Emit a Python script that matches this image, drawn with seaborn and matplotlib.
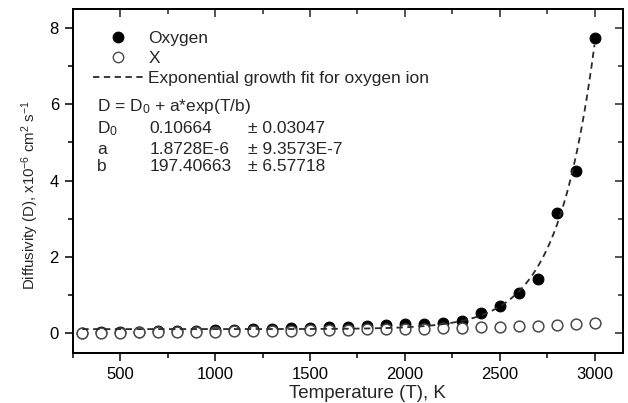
import numpy as np
import pandas as pd
import matplotlib
matplotlib.use("Agg")
import matplotlib.pyplot as plt
from matplotlib.lines import Line2D
from matplotlib.ticker import MultipleLocator, NullFormatter
import seaborn as sns

# ---- data ----
temperature = [300, 400, 500, 600, 700, 800, 900, 1000, 1100, 1200, 1300, 1400,
               1500, 1600, 1700, 1800, 1900, 2000, 2100, 2200, 2300, 2400, 2500,
               2600, 2700, 2800, 2900, 3000]
oxygen = [0.01, 0.02, 0.03, 0.04, 0.05, 0.06, 0.07, 0.08, 0.09, 0.10, 0.12, 0.13,
          0.14, 0.16, 0.17, 0.19, 0.21, 0.23, 0.25, 0.28, 0.33, 0.53, 0.71,
          1.06, 1.42, 3.15, 4.24, 7.74]
x_series = [0.00, 0.01, 0.01, 0.02, 0.02, 0.03, 0.04, 0.04, 0.05, 0.06, 0.06, 0.07,
            0.08, 0.08, 0.09, 0.10, 0.11, 0.12, 0.12, 0.13, 0.14, 0.15, 0.17,
            0.18, 0.20, 0.22, 0.24, 0.28]
# fit parameters stated on the chart
fit_D0, fit_a, fit_b = 0.10664, 1.8728e-6, 197.40663
fit_T = np.linspace(300, 3000, 300)
fit_D = fit_D0 + fit_a * np.exp(fit_T / fit_b)

df = pd.DataFrame({"T": temperature, "Oxygen": oxygen, "X": x_series})
fit_df = pd.DataFrame({"T": fit_T, "D": fit_D})

sns.set_theme(style="ticks")
plt.rcParams["font.family"] = ["Liberation Sans", "DejaVu Sans"]
plt.rcParams["mathtext.fontset"] = "custom"
plt.rcParams["mathtext.rm"] = "Liberation Sans"
plt.rcParams["mathtext.it"] = "Liberation Sans"
plt.rcParams["mathtext.bf"] = "Liberation Sans:bold"

fig = plt.figure(figsize=(6.28, 4.03), dpi=100)
ax = fig.add_axes([0.116, 0.124, 0.876, 0.854])

dash = (0, (3.5, 2.5))
sns.scatterplot(data=df, x="T", y="X", ax=ax, marker="o", s=60,
                facecolor="white", edgecolor="#4a4a4a", linewidth=1.1, zorder=3)
sns.scatterplot(data=df, x="T", y="Oxygen", ax=ax, marker="o", s=60,
                color="black", edgecolor="black", linewidth=0.8, zorder=2)
sns.lineplot(data=fit_df, x="T", y="D", ax=ax, color="#2a2a2a",
             linestyle=dash, linewidth=1.3, zorder=4)

xlim = (250, 3150)
ylim = (-0.52, 8.5)
ax.set_xlim(*xlim)
ax.set_ylim(*ylim)

ax.xaxis.set_major_locator(MultipleLocator(500))
ax.xaxis.set_minor_locator(MultipleLocator(250))
ax.yaxis.set_major_locator(MultipleLocator(2))
ax.yaxis.set_minor_locator(MultipleLocator(1))
for s in ax.spines.values():
    s.set_linewidth(1.2)
    s.set_color("black")
ax.tick_params(which="both", direction="out", width=1.1, colors="black",
               labelsize=12, top=False, right=False, pad=4)
ax.tick_params(which="major", length=6)
ax.tick_params(which="minor", length=3.5)

# mirrored inward ticks on top and right
axt = ax.twiny()
axt.set_xlim(*xlim)
axt.xaxis.set_major_locator(MultipleLocator(500))
axt.xaxis.set_minor_locator(MultipleLocator(250))
axt.xaxis.set_major_formatter(NullFormatter())
axt.tick_params(axis="x", which="both", direction="in", width=1.1, top=True,
                labeltop=False, bottom=False, labelbottom=False)
axt.tick_params(axis="x", which="major", length=6)
axt.tick_params(axis="x", which="minor", length=3.5)
axt.tick_params(axis="y", left=False, right=False, labelleft=False, labelright=False)
axt.grid(False)

axr = ax.twinx()
axr.set_ylim(*ylim)
axr.yaxis.set_major_locator(MultipleLocator(2))
axr.yaxis.set_minor_locator(MultipleLocator(1))
axr.yaxis.set_major_formatter(NullFormatter())
axr.tick_params(axis="y", which="both", direction="in", width=1.1, right=True,
                labelright=False, left=False, labelleft=False)
axr.tick_params(axis="y", which="major", length=6)
axr.tick_params(axis="y", which="minor", length=3.5)
axr.tick_params(axis="x", top=False, bottom=False, labeltop=False, labelbottom=False)
axr.grid(False)
for a in (axt, axr):
    for s in a.spines.values():
        s.set_linewidth(1.2)
        s.set_color("black")

ax.set_xlabel("Temperature (T), K", fontsize=13.5)
ax.xaxis.set_label_coords(0.535, -0.093)
ax.set_ylabel(r"Diffusivity (D), x10$^{-6}$ cm$^{2}$ s$^{-1}$", fontsize=10.8)
ax.yaxis.set_label_coords(-0.058, 0.46)

handles = [
    Line2D([], [], marker="o", linestyle="none", markerfacecolor="black",
           markeredgecolor="black", markersize=7.5),
    Line2D([], [], marker="o", linestyle="none", markerfacecolor="white",
           markeredgecolor="#4a4a4a", markersize=7.5),
    Line2D([], [], color="#2a2a2a", linestyle=dash, linewidth=1.3),
]
labels = ["Oxygen", "X", "Exponential growth fit for oxygen ion"]
ax.legend(handles, labels, loc="upper left", bbox_to_anchor=(0.036, 0.937),
          frameon=False, fontsize=12.5, handlelength=2.9, handletextpad=0.3,
          borderaxespad=0, borderpad=0, labelspacing=0.3)

fs = 12.5
def px(xp, yp):
    return ((xp - 73) / 550, (353 - yp) / 344)

ax.text(*px(97, 107), r"D = D$_0$ + a*exp(T/b)", transform=ax.transAxes,
        fontsize=fs, va="center", ha="left")
rows = [(r"D$_0$", "0.10664", "\u00b1 0.03047", 129),
        ("a", "1.8728E-6", "\u00b1 9.3573E-7", 150),
        ("b", "197.40663", "\u00b1 6.57718", 167)]
for name, val, err, yp in rows:
    ax.text(*px(97, yp), name, transform=ax.transAxes, fontsize=fs, va="center")
    ax.text(*px(150, yp), val, transform=ax.transAxes, fontsize=fs, va="center")
    ax.text(*px(248, yp), err, transform=ax.transAxes, fontsize=fs, va="center")

fig.savefig("out.png", dpi=100)
